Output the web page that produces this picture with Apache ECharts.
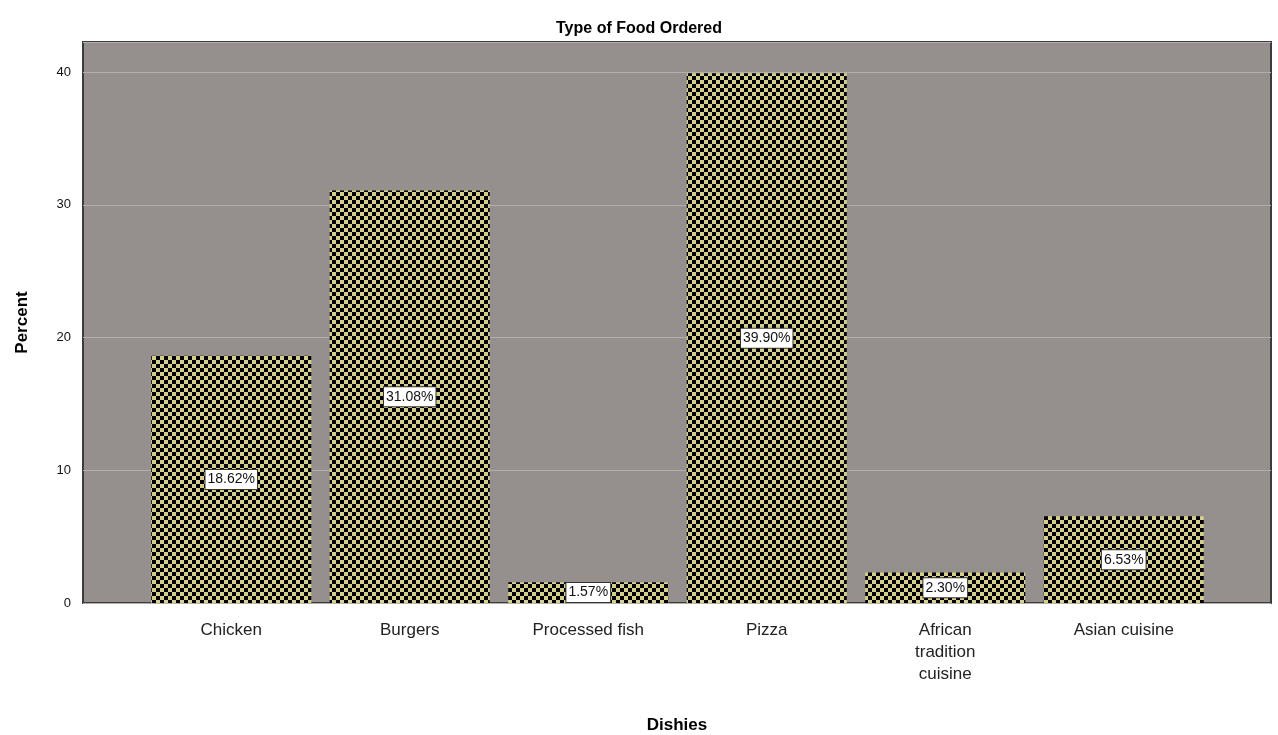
<!DOCTYPE html>
<html>
<head>
<meta charset="utf-8">
<script src="https://cdn.jsdelivr.net/npm/echarts@6/dist/echarts.min.js"></script>
<style>
  html, body { margin: 0; padding: 0; background: #fff; }
  #container { width: 1278px; height: 735px; }
</style>
</head>
<body>
<div id="container"></div>
<script>
// data
var categories = ['Chicken', 'Burgers', 'Processed fish', 'Pizza', 'African\ntradition\ncuisine', 'Asian cuisine'];
var percents = [18.62, 31.08, 1.57, 39.90, 2.30, 6.53];
var yTicks = [0, 10, 20, 30, 40];

var dom = document.getElementById('container');
var myChart = echarts.init(dom, null, { renderer: 'canvas' });

// checkerboard fill used by the bars
var tile = document.createElement('canvas');
tile.width = 8;
tile.height = 8;
var ctx = tile.getContext('2d');
ctx.fillStyle = '#d6cf8b';
ctx.fillRect(0, 0, 8, 8);
ctx.fillStyle = '#000';
ctx.fillRect(0, 0, 4, 4);
ctx.fillRect(4, 4, 4, 4);

var yMax = 42.26;
var font = 'Liberation Sans, Arial, sans-serif';

var option = {
  animation: false,
  title: {
    text: 'Type of Food Ordered',
    left: 'center',
    top: 16,
    textStyle: { fontFamily: font, fontSize: 16, fontWeight: 'bold', color: '#000' }
  },
  grid: [
    // background plot box
    { left: 83, right: 7, top: 42, bottom: 132, show: true, outerBoundsMode: 'none', containLabel: false,
      backgroundColor: '#958f8e', borderColor: '#3c3c3c', borderWidth: 2 },
    // bars sit in a narrower band inside it
    { left: 142, right: 65, top: 42, bottom: 132, outerBoundsMode: 'none', containLabel: false }
  ],
  xAxis: [
    { gridIndex: 0, type: 'value', min: 0, max: 1, show: false },
    {
      gridIndex: 1,
      type: 'category',
      data: categories,
      axisLine: { show: false },
      axisTick: { show: false },
      axisLabel: {
        margin: 16,
        fontFamily: font,
        fontSize: 17,
        color: '#222',
        lineHeight: 22,
        interval: 0
      }
    }
  ],
  yAxis: [
    {
      gridIndex: 0,
      type: 'value',
      min: 0,
      max: yMax,
      interval: 10,
      axisLine: { show: false },
      axisTick: { show: false },
      axisLabel: {
        showMaxLabel: false,
        fontFamily: font,
        fontSize: 13,
        color: '#111',
        margin: 12,
        formatter: function (v) { return yTicks.indexOf(v) >= 0 ? String(v) : ''; }
      },
      splitLine: { show: true, lineStyle: { color: '#b3afae', width: 1 } },
      name: 'Percent',
      nameLocation: 'middle',
      nameGap: 52,
      nameRotate: 90,
      nameTextStyle: { fontFamily: font, fontSize: 17, fontWeight: 'bold', color: '#000' }
    },
    { gridIndex: 1, type: 'value', min: 0, max: yMax, show: false }
  ],
  graphic: [
    {
      type: 'text',
      x: 677,
      y: 725,
      style: { text: 'Dishies', font: 'bold 17px ' + font, fill: '#000', align: 'center', verticalAlign: 'middle' }
    }
  ],
  series: [
    {
      type: 'bar',
      xAxisIndex: 1,
      yAxisIndex: 1,
      data: percents,
      barWidth: 160,
      itemStyle: {
        color: { image: tile, repeat: 'repeat' }
      },
      label: {
        show: true,
        position: 'inside',
        formatter: function (p) { return p.value.toFixed(2) + '%'; },
        fontFamily: font,
        fontSize: 14,
        color: '#111',
        backgroundColor: '#fff',
        borderColor: '#333',
        borderWidth: 1,
        padding: [3, 2, 2, 2]
      }
    }
  ]
};

myChart.setOption(option);
window.addEventListener('resize', myChart.resize);
</script>
</body>
</html>
